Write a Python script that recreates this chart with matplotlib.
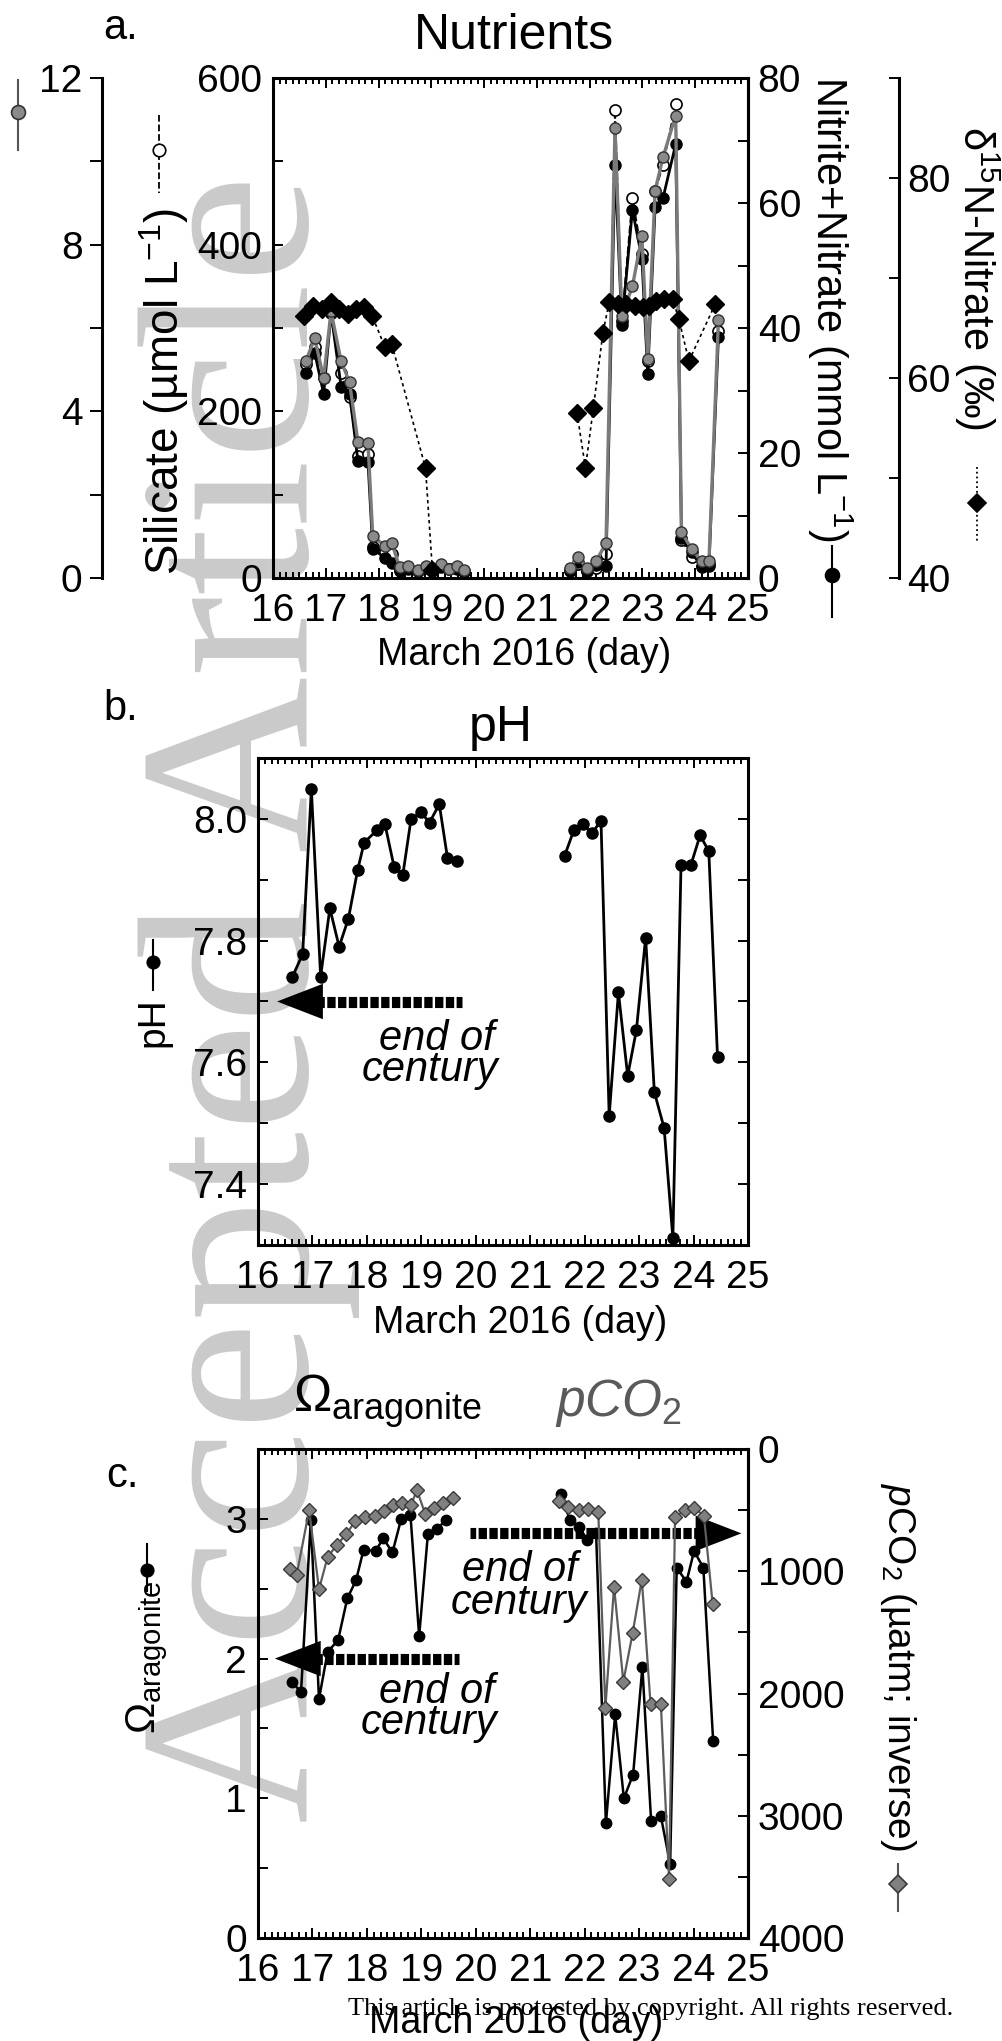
import numpy as np
import matplotlib
matplotlib.use('Agg')
import matplotlib.pyplot as plt
from matplotlib.lines import Line2D
from matplotlib.ticker import MultipleLocator

plt.rcParams['font.family'] = ['Liberation Sans', 'DejaVu Sans']
plt.rcParams['mathtext.fontset'] = 'custom'
plt.rcParams['mathtext.rm'] = 'Liberation Sans'
plt.rcParams['mathtext.it'] = 'Liberation Sans:italic'
plt.rcParams['mathtext.bf'] = 'Liberation Sans:bold'

# ---- panel a: nutrients (two sampling periods) ----
t_a1 = [16.62, 16.79, 16.96, 17.10, 17.29, 17.45, 17.61, 17.80, 17.89, 18.12,
        18.25, 18.40, 18.56, 18.75, 18.90, 19.02, 19.18, 19.33, 19.49, 19.61]
silicate_1 = [257, 277, 240, 318, 246, 217, 147, 149, 37, 31,
              29, 10, 12, 9, 13, 10, 14, 11, 12, 8]
nitrate_1 = [32.8, 36.0, 29.5, 42.4, 30.6, 29.5, 18.7, 18.5, 4.7, 3.2,
             2.4, 1.2, 1.5, 1.1, 1.6, 1.3, 1.7, 1.4, 1.5, 1.0]
gray_1 = [5.2, 5.75, 4.8, 6.4, 5.2, 4.7, 3.26, 3.23, 1.0, 0.78,
          0.84, 0.26, 0.3, 0.2, 0.3, 0.25, 0.33, 0.22, 0.28, 0.2]

t_a2 = [21.62, 21.77, 21.95, 22.12, 22.31, 22.48, 22.61, 22.81, 22.99, 23.10,
        23.24, 23.39, 23.63, 23.74, 23.93, 24.12, 24.26, 24.44]
silicate_2 = [10, 17, 8, 12, 29, 562, 308, 456, 389, 260,
              464, 496, 569, 46, 25, 15, 17, 296]
nitrate_2 = [1.2, 2.5, 1.2, 2.1, 1.9, 66.1, 40.5, 58.9, 51.1, 32.6,
             59.4, 60.8, 69.4, 6.4, 4.2, 1.7, 1.9, 38.6]
gray_2 = [0.24, 0.5, 0.24, 0.4, 0.84, 10.8, 6.3, 7.0, 8.2, 5.25,
          9.3, 10.1, 11.1, 1.1, 0.7, 0.4, 0.4, 6.2]

t_d1 = [16.59, 16.76, 16.93, 17.10, 17.25, 17.43, 17.58, 17.73, 17.88, 18.12,
        18.25, 18.89, 19.02]
d15n_1 = [66.2, 67.2, 66.9, 67.6, 66.9, 66.4, 66.9, 67.1, 66.2, 63.1,
          63.4, 51.0, 40.8]
t_d2 = [21.76, 21.92, 22.07, 22.25, 22.37, 22.54, 22.69, 22.85, 23.01, 23.13,
        23.26, 23.41, 23.57, 23.69, 23.88, 24.38]
d15n_2 = [56.5, 51.0, 57.0, 64.5, 67.6, 67.4, 67.4, 67.2, 67.1, 67.2,
          67.7, 67.9, 67.9, 65.9, 61.7, 67.4]

# ---- panel b: pH ----
t_ph1 = [16.63, 16.82, 16.98, 17.15, 17.32, 17.49, 17.66, 17.83, 17.95, 18.18,
         18.33, 18.50, 18.66, 18.81, 18.99, 19.15, 19.33, 19.48, 19.66]
ph_1 = [7.740, 7.778, 8.049, 7.741, 7.853, 7.790, 7.836, 7.916, 7.961, 7.981,
        7.992, 7.921, 7.908, 7.999, 8.011, 7.994, 8.024, 7.936, 7.931]
t_ph2 = [21.63, 21.80, 21.97, 22.13, 22.30, 22.45, 22.62, 22.79, 22.95, 23.12,
         23.28, 23.46, 23.62, 23.77, 23.95, 24.12, 24.28, 24.44]
ph_2 = [7.939, 7.981, 7.991, 7.976, 7.997, 7.512, 7.715, 7.578, 7.653, 7.805,
        7.551, 7.492, 7.311, 7.925, 7.924, 7.973, 7.947, 7.609]

# ---- panel c: aragonite saturation and pCO2 ----
t_om1 = [16.63, 16.79, 16.97, 17.12, 17.28, 17.47, 17.64, 17.80, 17.94, 18.16,
         18.30, 18.47, 18.63, 18.80, 18.96, 19.12, 19.29, 19.45]
omega_1 = [1.83, 1.76, 2.99, 1.71, 2.05, 2.13, 2.43, 2.56, 2.78, 2.77,
           2.86, 2.76, 3.00, 3.03, 2.16, 2.89, 2.93, 2.99]
t_om2 = [21.56, 21.73, 21.90, 22.05, 22.21, 22.39, 22.56, 22.72, 22.89, 23.06,
         23.22, 23.40, 23.57, 23.69, 23.87, 24.01, 24.18, 24.36]
omega_2 = [3.18, 2.99, 2.94, 2.85, 2.90, 0.82, 1.60, 1.00, 1.17, 1.94,
           0.84, 0.87, 0.53, 2.65, 2.55, 2.77, 2.65, 1.41]

t_pc1 = [16.59, 16.71, 16.94, 17.12, 17.28, 17.45, 17.62, 17.79, 17.97, 18.14,
         18.31, 18.48, 18.65, 18.81, 18.92, 19.07, 19.24, 19.40, 19.59]
pco2_1 = [979, 1029, 500, 1147, 882, 785, 697, 588, 559, 550,
          509, 462, 441, 456, 338, 529, 485, 441, 397]
t_pc2 = [21.52, 21.70, 21.89, 22.07, 22.25, 22.38, 22.54, 22.71, 22.88, 23.05,
         23.21, 23.40, 23.55, 23.66, 23.84, 24.01, 24.19, 24.35]
pco2_2 = [426, 471, 500, 491, 515, 2118, 1126, 1903, 1509, 1068,
          2088, 2088, 3515, 559, 500, 485, 544, 1265]

# end-of-century reference levels
eoc_ph = 7.7
eoc_omega = 2.0
eoc_pco2 = 690

W, H = 1002, 2041
fig = plt.figure(figsize=(W / 100, H / 100), dpi=100)
fig.patch.set_facecolor('white')

TICK = 28
GRAY = '#8a8a8a'


def frame(left, top, right, bottom):
    return [left / W, 1 - bottom / H, (right - left) / W, (bottom - top) / H]


def fx(x):
    return x / W


def fy(y):
    return 1 - y / H


def style_days(ax):
    ax.set_xlim(16, 25)
    ax.patch.set_alpha(0)
    ax.xaxis.set_major_locator(MultipleLocator(1))
    ax.xaxis.set_minor_locator(MultipleLocator(1 / 8))
    ax.tick_params(axis='x', which='both', direction='in', top=True, bottom=True,
                   labelsize=TICK, pad=11, width=1.4)
    ax.tick_params(axis='x', which='major', length=7)
    ax.tick_params(axis='x', which='minor', length=4)
    for s in ax.spines.values():
        s.set_linewidth(2.2)


def y_ticks(ax, major, minor, direction='in', pad=8, length=7):
    ax.yaxis.set_major_locator(MultipleLocator(major))
    ax.yaxis.set_minor_locator(MultipleLocator(minor))
    ax.tick_params(axis='y', which='both', direction=direction, length=length,
                   width=1.4, labelsize=TICK, pad=pad)


def only_spine(ax, name, pos=None):
    for k, s in ax.spines.items():
        s.set_visible(k == name)
        s.set_linewidth(2.2)
    if pos is not None:
        ax.spines[name].set_position(('axes', pos))


def stick(x, y0, y1, ym, ls, color, marker, mfc, mec, ms, lw=1.5):
    fig.add_artist(Line2D([fx(x), fx(x)], [fy(y0), fy(y1)], transform=fig.transFigure,
                          ls=ls, color=color, lw=lw))
    fig.add_artist(Line2D([fx(x)], [fy(ym)], transform=fig.transFigure, ls='none',
                          marker=marker, mfc=mfc, mec=mec, ms=ms, mew=1.2))


def eoc_arrow(ax, x_tip, x_tail, level):
    sign = 1 if x_tail > x_tip else -1
    ax.plot([x_tip + sign * 0.72, x_tail], [level, level], color='k', lw=8,
            ls=(0, (0.75, 0.22)), dash_capstyle='butt', solid_capstyle='butt', zorder=2)
    ax.annotate('', xy=(x_tip, level), xytext=(x_tip + sign * 1.6, level),
                arrowprops=dict(arrowstyle='-|>,head_length=2.2,head_width=0.85',
                                mutation_scale=15, color='k', lw=0,
                                shrinkA=0, shrinkB=0), zorder=2)


def eoc_text(ax, x1, y1, x2, y2):
    ax.text(x1, y1, 'end of', ha='right', va='baseline', style='italic', fontsize=30)
    ax.text(x2, y2, 'century', ha='right', va='baseline', style='italic', fontsize=30)


# watermark
fig.text(fx(308), fy(1823), 'Accepted Article', rotation=90, rotation_mode='anchor',
         ha='left', va='baseline', fontsize=176, family='Liberation Serif',
         color='#cacaca', zorder=-10)

# ================= panel a =================
ax_a = fig.add_axes(frame(273, 78, 748, 578))
style_days(ax_a)
ax_a.set_ylim(0, 600)
y_ticks(ax_a, 200, 100)
ax_a.tick_params(axis='y', which='both', right=False)

ax_n = ax_a.twinx()
ax_n.set_ylim(0, 80)
only_spine(ax_n, 'right')
y_ticks(ax_n, 20, 10, pad=7)

ax_g = ax_a.twinx()
ax_g.set_ylim(0, 12)
only_spine(ax_g, 'left', (102 - 273) / 475)
ax_g.yaxis.tick_left()
y_ticks(ax_g, 4, 2, direction='out', pad=5, length=9)

ax_d = ax_a.twinx()
ax_d.set_ylim(40, 90)
only_spine(ax_d, 'right', (899 - 273) / 475)
y_ticks(ax_d, 20, 10, pad=6)

for t, si, no, gr in [(t_a1, silicate_1, nitrate_1, gray_1), (t_a2, silicate_2, nitrate_2, gray_2)]:
    ax_a.plot(t, si, ls='--', color='k', lw=1.4, marker='o', mfc='white', mec='k',
              ms=8, mew=1.2, zorder=3)
    ax_n.plot(t, no, ls='-', color='k', lw=2.0, marker='o', mfc='k', mec='k', ms=8, zorder=3)
    ax_g.plot(t, gr, ls='-', color='#7a7a7a', lw=2.4, marker='o', mfc=GRAY, mec='#333333',
              ms=8, mew=1.0, zorder=3)
for t, d in [(t_d1, d15n_1), (t_d2, d15n_2)]:
    ax_d.plot(t, d, ls=(0, (2, 2)), color='k', lw=1.2, marker='D', mfc='k', mec='k',
              ms=9, zorder=4)

fig.text(fx(103), fy(39), 'a.', fontsize=30, va='baseline')
fig.text(fx(514), fy(49), 'Nutrients', fontsize=36, ha='center', va='baseline')
fig.text(fx(164), fy(575), 'Silicate (µmol L$^{-1}$)', rotation=90, ha='center',
         va='bottom', fontsize=33)
fig.text(fx(830), fy(76), 'Nitrite+Nitrate (mmol L$^{-1}$)', rotation=270, ha='center',
         va='top', fontsize=30)
fig.text(fx(977), fy(126), 'δ$^{15}$N-Nitrate (‰)', rotation=270, ha='center',
         va='top', fontsize=30)
fig.text(fx(524), fy(655), 'March 2016 (day)', fontsize=27, ha='center', va='center')

stick(18, 80, 150, 112, '-', '#555555', 'o', GRAY, '#333333', 10)
stick(159, 115, 193, 150, '--', 'k', 'o', 'white', 'k', 9, lw=1.3)
stick(832, 546, 617, 575, '-', 'k', 'o', 'k', 'k', 10)
stick(977, 467, 542, 503, ':', 'k', 'D', 'k', 'k', 9, lw=1.3)

# ================= panel b =================
ax_b = fig.add_axes(frame(258, 758, 748, 1245))
style_days(ax_b)
ax_b.set_ylim(7.3, 8.1)
y_ticks(ax_b, 0.2, 0.1)
ax_b.tick_params(axis='y', which='both', right=True)
for t, p in [(t_ph1, ph_1), (t_ph2, ph_2)]:
    ax_b.plot(t, p, color='k', lw=2.0, marker='o', ms=8, zorder=3)
eoc_arrow(ax_b, 16.35, 19.75, eoc_ph)
eoc_text(ax_b, 20.35, 7.62, 20.41, 7.57)

fig.text(fx(103), fy(720), 'b.', fontsize=30, va='baseline')
fig.text(fx(501), fy(741), 'pH', fontsize=36, ha='center', va='baseline')
fig.text(fx(153), fy(1047), 'pH', rotation=90, ha='center', va='bottom', fontsize=28)
fig.text(fx(520), fy(1323), 'March 2016 (day)', fontsize=27, ha='center', va='center')
stick(153, 940, 990, 962, '-', 'k', 'o', 'k', 'k', 9)

# ================= panel c =================
ax_c = fig.add_axes(frame(258, 1449, 748, 1938))
style_days(ax_c)
ax_c.set_ylim(0, 3.5)
y_ticks(ax_c, 1, 0.5)
ax_c.tick_params(axis='y', which='both', right=False)

ax_p = ax_c.twinx()
ax_p.set_ylim(4000, 0)
only_spine(ax_p, 'right')
y_ticks(ax_p, 1000, 500, pad=7)

for t, o in [(t_om1, omega_1), (t_om2, omega_2)]:
    ax_c.plot(t, o, color='k', lw=1.8, marker='o', ms=7.5, zorder=3)
for t, p in [(t_pc1, pco2_1), (t_pc2, pco2_2)]:
    ax_p.plot(t, p, color='#5c5c5c', lw=1.6, marker='D', mfc='#808080', mec='#3a3a3a',
              ms=7.5, mew=1.0, zorder=3)
eoc_arrow(ax_c, 16.31, 19.70, eoc_omega)
eoc_text(ax_c, 20.35, 1.68, 20.39, 1.46)
eoc_arrow(ax_p, 24.88, 19.90, eoc_pco2)
eoc_text(ax_p, 21.88, 1080, 22.04, 1350)

fig.text(fx(106), fy(1487), 'c.', fontsize=30, va='baseline')
fig.text(fx(293), fy(1412), r'Ω$_{\mathrm{aragonite}}$', fontsize=37, va='baseline')
fig.text(fx(555), fy(1416), r'$\mathit{pCO}_{\mathrm{2}}$', fontsize=37, color='#5a5a5a',
         va='baseline')
fig.text(fx(147), fy(1734), r'Ω$_{\mathrm{aragonite}}$', rotation=90, ha='center',
         va='bottom', fontsize=30)
fig.text(fx(898), fy(1483), r'$\mathit{p}$CO$_2$ (µatm; inverse)', rotation=270,
         ha='center', va='top', fontsize=28)
stick(898, 1864, 1911, 1884, '-', '#555555', 'D', '#808080', '#3a3a3a', 9)
stick(147, 1544, 1591, 1570, '-', 'k', 'o', 'k', 'k', 9)

fig.text(fx(516), fy(2023), 'March 2016 (day)', fontsize=27, ha='center', va='center')
fig.text(fx(348), fy(2015), 'This article is protected by copyright. All rights reserved.',
         family='Liberation Serif', fontsize=19, va='baseline')

fig.savefig('out.png', dpi=100, facecolor='white')
